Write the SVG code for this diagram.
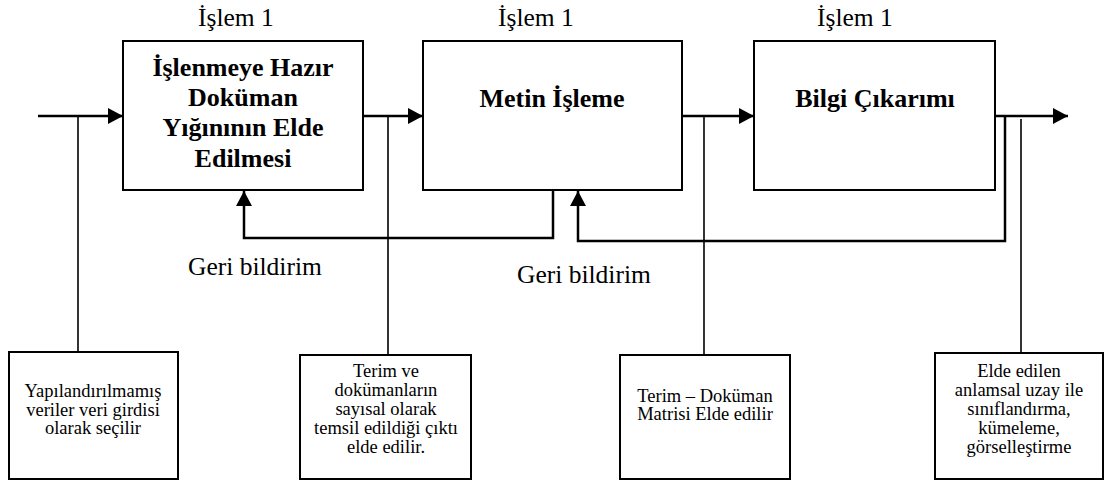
<svg xmlns="http://www.w3.org/2000/svg" width="1105" height="484" viewBox="0 0 1105 484">
  <style>
    .box { fill: #fff; stroke: #000; stroke-width: 2; }
    .note { fill: #fff; stroke: #000; stroke-width: 2; }
    .flow { fill: none; stroke: #000; stroke-width: 2.5; }
    .tap { fill: none; stroke: #000; stroke-width: 1.6; }
    text { font-family: "Liberation Serif", "DejaVu Serif", serif; fill: #000; }
    .title { font-weight: bold; font-size: 26px; text-anchor: middle; }
    .label { font-size: 25.5px; }
    .small { font-size: 18.5px; text-anchor: middle; }
  </style>
  <defs>
    <marker id="arrow" markerUnits="userSpaceOnUse" markerWidth="16" markerHeight="16" refX="15" refY="8" orient="auto">
      <path d="M0,0 L15,8 L0,16 Z" fill="#000"/>
    </marker>
  </defs>
  <rect width="1105" height="484" fill="#fff"/>

  <!-- connectors -->
  <g id="connectors">
    <!-- main flow -->
    <line class="flow" x1="38" y1="116" x2="123" y2="116" marker-end="url(#arrow)"/>
    <line class="flow" x1="363" y1="116" x2="423" y2="116" marker-end="url(#arrow)"/>
    <line class="flow" x1="682" y1="116" x2="754" y2="116" marker-end="url(#arrow)"/>
    <line class="flow" x1="995" y1="116" x2="1068" y2="116" marker-end="url(#arrow)"/>
    <!-- feedback loops -->
    <polyline class="flow" points="553,190 553,238 244,238 244,191" marker-end="url(#arrow)"/>
    <polyline class="flow" points="1005,116 1005,241 578,241 578,191" marker-end="url(#arrow)"/>
    <!-- taps down to notes -->
    <line class="tap" x1="78" y1="116" x2="78" y2="352"/>
    <line class="tap" x1="388" y1="116" x2="388" y2="355"/>
    <line class="tap" x1="704" y1="116" x2="704" y2="355"/>
    <line class="tap" x1="1021" y1="119" x2="1021" y2="353"/>
  </g>

  <!-- step labels -->
  <g id="step-labels">
    <text class="label" x="198" y="26">İşlem 1</text>
    <text class="label" x="498" y="26">İşlem 1</text>
    <text class="label" x="817" y="26">İşlem 1</text>
    <text class="label" x="188" y="275">Geri bildirim</text>
    <text class="label" x="517" y="283">Geri bildirim</text>
  </g>

  <g id="step1">
    <rect class="box" x="123" y="41" width="240" height="149"/>
    <text class="title" x="243" y="76">İşlenmeye Hazır</text>
    <text class="title" x="243" y="106">Doküman</text>
    <text class="title" x="243" y="136">Yığınının Elde</text>
    <text class="title" x="243" y="167">Edilmesi</text>
  </g>

  <g id="step2">
    <rect class="box" x="423" y="41" width="259" height="149"/>
    <text class="title" x="552" y="107">Metin İşleme</text>
  </g>

  <g id="step3">
    <rect class="box" x="754" y="41" width="241" height="149"/>
    <text class="title" x="875" y="107">Bilgi Çıkarımı</text>
  </g>

  <g id="note1">
    <rect class="note" x="9" y="352" width="169" height="127"/>
    <text class="small" x="93" y="397">Yapılandırılmamış</text>
    <text class="small" x="93" y="416">veriler veri girdisi</text>
    <text class="small" x="93" y="434">olarak seçilir</text>
  </g>

  <g id="note2">
    <rect class="note" x="300" y="355" width="171" height="124"/>
    <text class="small" x="386" y="377">Terim ve</text>
    <text class="small" x="386" y="396">dokümanların</text>
    <text class="small" x="386" y="415">sayısal olarak</text>
    <text class="small" x="386" y="434">temsil edildiği çıktı</text>
    <text class="small" x="386" y="453">elde edilir.</text>
  </g>

  <g id="note3">
    <rect class="note" x="620" y="355" width="170" height="124"/>
    <text class="small" x="705" y="402">Terim – Doküman</text>
    <text class="small" x="705" y="420">Matrisi Elde edilir</text>
  </g>

  <g id="note4">
    <rect class="note" x="935" y="353" width="168" height="126"/>
    <text class="small" x="1019" y="377">Elde edilen</text>
    <text class="small" x="1019" y="396">anlamsal uzay ile</text>
    <text class="small" x="1019" y="415">sınıflandırma,</text>
    <text class="small" x="1019" y="434">kümeleme,</text>
    <text class="small" x="1019" y="453">görselleştirme</text>
  </g>
</svg>
